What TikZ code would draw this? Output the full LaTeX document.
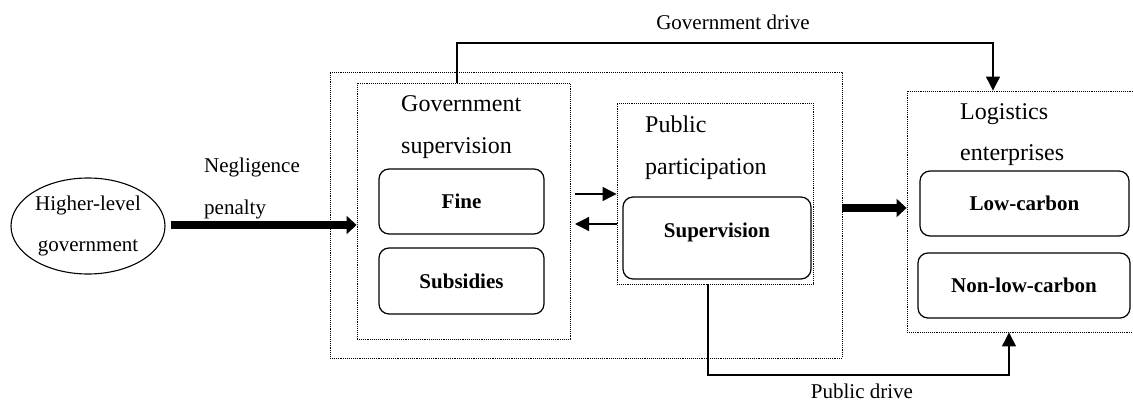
\documentclass[tikz,border=0pt]{standalone}
\usepackage{fontspec}
\setmainfont{Liberation Serif}
\usetikzlibrary{shapes.geometric,arrows.meta}
\tikzset{
  dotbox/.style={draw, densely dotted, line width=0.9pt, inner sep=0pt, rectangle},
  rbox/.style={draw, line width=1.2pt, rounded corners=10pt, inner sep=0pt,
    font=\fontsize{21}{24}\selectfont\bfseries, align=center},
  ttl/.style={anchor=base west, inner sep=0pt, font=\fontsize{24}{28}\selectfont},
  lbl/.style={inner sep=0pt, font=\fontsize{21}{24}\selectfont},
  conn/.style={line width=1.2pt, -{Triangle[length=14pt,width=14pt]}},
  fat/.style={line width=7.5pt, -{Triangle[length=10pt,width=18pt]}},
}
\begin{document}
\begin{tikzpicture}[x=1pt,y=-1pt]
\useasboundingbox (0,0) rectangle (1133,404);
% dotted containers
\node[dotbox, minimum width=512pt, minimum height=286pt] (outer) at (586,215) {};
\node[dotbox, minimum width=213pt, minimum height=256pt] (gov) at (463.5,211) {};
\node[dotbox, minimum width=196pt, minimum height=181pt] (pub) at (715,193.5) {};
\node[dotbox, minimum width=232pt, minimum height=241pt] (log) at (1023,211.5) {};
% titles
\node[ttl] (govt1) at (401,111) {Government};
\node[ttl] (govt2) at (401,153) {supervision};
\node[ttl] (pubt1) at (645,132) {Public};
\node[ttl] (pubt2) at (645,174) {participation};
\node[ttl] (logt1) at (960,119) {Logistics};
\node[ttl] (logt2) at (960,160) {enterprises};
% rounded boxes
\node[rbox, minimum width=165pt, minimum height=65pt] (fine) at (461.5,201.5) {Fine};
\node[rbox, minimum width=165pt, minimum height=66pt] (subs) at (461.5,281) {Subsidies};
\node[rbox, minimum width=188pt, minimum height=82pt, text depth=16pt] (sup) at (717,238) {Supervision};
\node[rbox, minimum width=209pt, minimum height=65pt] (low) at (1024.5,203.5) {Low-carbon};
\node[rbox, minimum width=212pt, minimum height=65pt] (nonlow) at (1024,285.5) {Non-low-carbon};
% ellipse
\node[draw, ellipse, line width=1.1pt, minimum width=154pt, minimum height=96pt, inner sep=0pt,
  align=center, font=\fontsize{21}{41}\selectfont] (hlg) at (88,226) {Higher-level\\government};
% labels
\node[lbl, anchor=base west] (neg1) at (204,172) {Negligence};
\node[lbl, anchor=base west] (neg2) at (204,214) {penalty};
\node[lbl, anchor=base] (gdl) at (733,30) {Government drive};
\node[lbl, anchor=base] (pdl) at (862,398) {Public drive};
% thick arrows
\draw[fat] ([xshift=5pt]hlg.east |- 0,225) -- (gov.west |- 0,225);
\coordinate (mid) at (842,208);
\draw[fat] (mid) -- (mid -| log.west);
% small arrows between government and public
\coordinate (ra) at (575,194);
\coordinate (la) at (575,224);
\draw[conn] (ra) -- (ra -| pub.west);
\draw[conn] (la -| pub.west) -- (la);
% government drive
\coordinate (gd1) at (457,43);
\coordinate (gd2) at (993,43);
\draw[conn] (gd1 |- gov.north) -- (gd1) -- (gd2) -- (gd2 |- log.north);
% public drive
\coordinate (pd1) at (708,375);
\coordinate (pd2) at (1009,375);
\draw[conn] (pd1 |- pub.south) -- (pd1) -- (pd2) -- (pd2 |- log.south);
\end{tikzpicture}
\end{document}
